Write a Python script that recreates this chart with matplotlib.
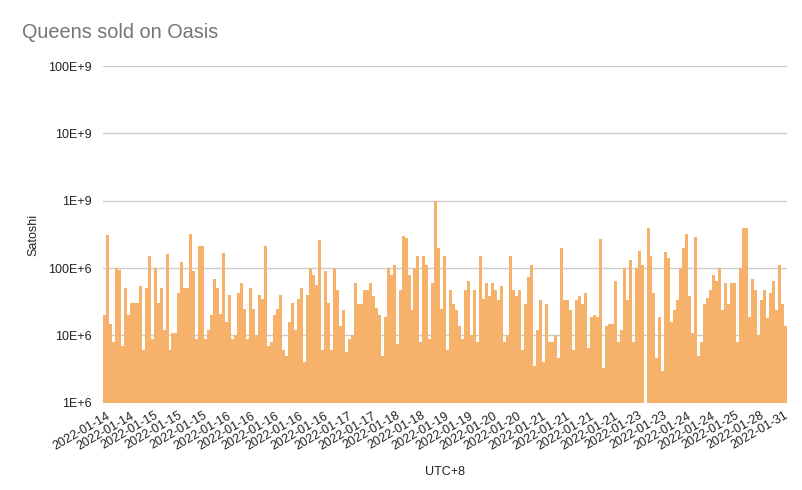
import numpy as np
import matplotlib
matplotlib.use("Agg")
import matplotlib.pyplot as plt
from matplotlib.ticker import FixedLocator, NullLocator

plt.rcParams["font.family"] = ["Liberation Sans", "DejaVu Sans"]

# sale prices, in millions of satoshi, read left to right off the chart
seg1 = [20, 310, 15, 8, 100, 95, 7, 50, 20, 30, 30, 30, 55, 6, 50, 150, 9, 100, 30,
        50, 12, 160, 6, 11, 11, 42, 125, 50, 50, 320, 90, 9, 210, 210, 9, 12, 20, 70]
seg2 = [50, 21, 165, 16, 40, 9, 10, 42, 60, 25, 9, 50, 25, 10, 40, 35, 215, 7, 8, 20,
        25, 40, 6, 5, 16, 30, 12, 35, 50, 4, 40, 100, 80, 57, 260, 6, 90, 30, 6]
seg3 = [100, 47, 14, 24, 5.6, 9, 10, 60, 29, 29, 47, 47, 60, 38, 26, 20, 5, 19, 100,
        80, 110, 7.5, 47, 300, 280, 80, 24, 100, 150, 8, 150, 110, 9, 60, 1000, 200, 25, 150, 6]
seg4 = [47, 29, 24, 14, 9, 47, 65, 10, 47, 8, 150, 35, 60, 38, 60, 47, 34, 55, 8, 10,
        150, 47, 38, 47, 6, 29, 75, 110, 3.5, 12, 34, 4, 29, 8, 8, 10, 4.6, 200]
seg5 = [34, 34, 24, 6, 34, 38, 29, 42, 6.6, 19, 20, 19, 270, 3.3, 14, 15, 15, 65, 8, 12,
        100, 34, 130, 8, 100, 180, 110, 1.0, 400, 150, 42, 4.6, 19, 3, 175, 140, 16, 24, 34]
seg6 = [100, 200, 320, 38, 11, 290, 5, 8, 29, 36, 47, 80, 65, 100, 24, 60, 29, 60, 60,
        8, 100, 400, 400, 19, 70, 47, 10, 34, 47, 18, 42, 65, 24, 110, 29, 14]

date_labels = ["2022-01-14", "2022-01-14", "2022-01-15", "2022-01-15", "2022-01-15",
               "2022-01-16", "2022-01-16", "2022-01-16", "2022-01-16", "2022-01-16",
               "2022-01-17", "2022-01-17", "2022-01-18", "2022-01-18", "2022-01-19",
               "2022-01-19", "2022-01-20", "2022-01-20", "2022-01-21", "2022-01-21",
               "2022-01-21", "2022-01-21", "2022-01-23", "2022-01-23", "2022-01-24",
               "2022-01-24", "2022-01-25", "2022-01-28", "2022-01-31"]

y_ticks = [1e6, 1e7, 1e8, 1e9, 1e10, 1e11]
y_tick_labels = ["1E+6", "10E+6", "100E+6", "1E+9", "10E+9", "100E+9"]

satoshi = np.array(seg1 + seg2 + seg3 + seg4 + seg5 + seg6) * 1e6
n = len(satoshi)
x = np.arange(n)

fig = plt.figure(figsize=(8.03, 4.90), dpi=100)
ax = fig.add_axes([0.128, 0.178, 0.852, 0.687])

ax.set_yscale("log")
ax.bar(x, satoshi, width=1.0, color="#F6B26B", edgecolor="none", zorder=2)
ax.set_ylim(1e6, 1e11)
ax.set_xlim(-0.5, n - 0.5)

ax.yaxis.set_major_locator(FixedLocator(y_ticks))
ax.yaxis.set_minor_locator(NullLocator())
ax.set_yticklabels(y_tick_labels)
ax.grid(axis="y", color="#cccccc", linewidth=1.0, zorder=0)

tick_pos = np.linspace(0.5, n - 1.5, len(date_labels))
ax.set_xticks(tick_pos)
ax.set_xticklabels(date_labels, rotation=30, ha="right", rotation_mode="anchor")

ax.tick_params(axis="both", length=0, labelsize=9, colors="#222222")
ax.tick_params(axis="y", pad=8)
ax.tick_params(axis="x", pad=5)
for s in ax.spines.values():
    s.set_visible(False)

ax.set_ylabel("Satoshi", fontsize=9, color="#222222", labelpad=6)
ax.set_xlabel("UTC+8", fontsize=9, color="#222222", labelpad=10)
fig.text(0.028, 0.922, "Queens sold on Oasis", fontsize=14.3, color="#757575")

fig.savefig("out.png", dpi=100)
